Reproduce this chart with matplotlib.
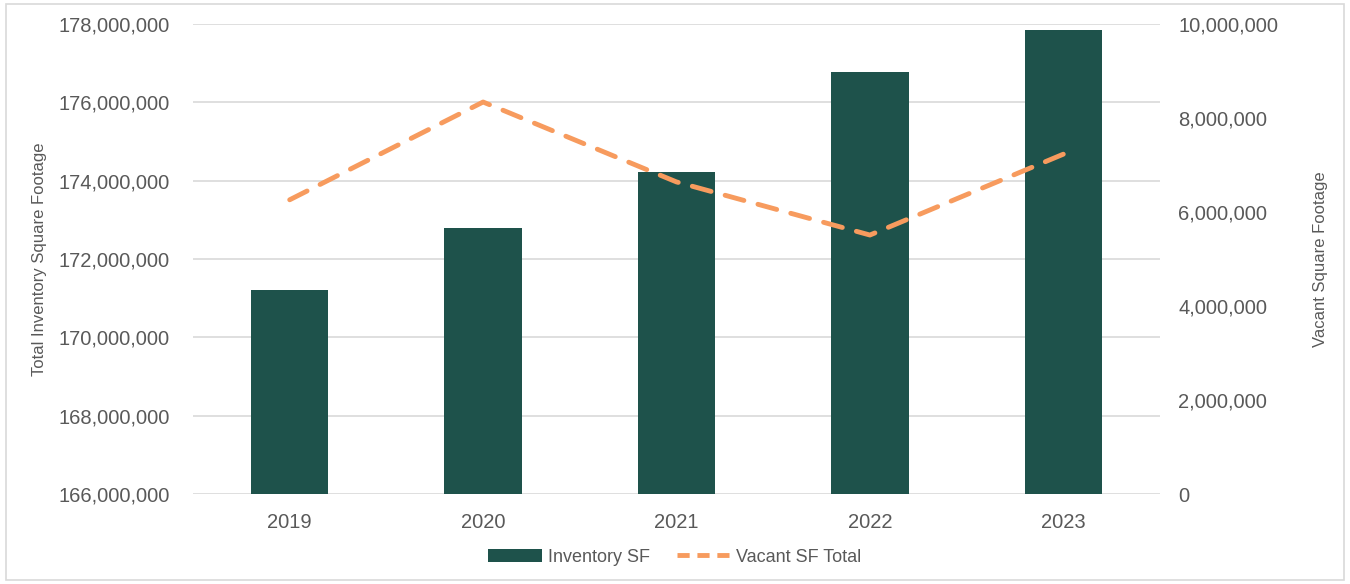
import numpy as np
import matplotlib.pyplot as plt
from matplotlib.ticker import FuncFormatter, MultipleLocator
from matplotlib.patches import Rectangle
from matplotlib.lines import Line2D
from matplotlib.patches import Patch

plt.rcParams['font.family'] = ['Liberation Sans', 'DejaVu Sans']

years = ['2019', '2020', '2021', '2022', '2023']
inventory_sf = [171200000, 172790000, 174210000, 176780000, 177840000]
vacant_sf = [6260000, 8340000, 6640000, 5510000, 7230000]

bar_color = '#1E524B'
line_color = '#F79B5E'
text_color = '#595959'
grid_color = '#D9D9D9'

fig = plt.figure(figsize=(13.5, 5.84), dpi=100)
ax = fig.add_axes([193 / 1350, 1 - 494 / 584, 967 / 1350, 470 / 584])
ax2 = ax.twinx()

x = np.arange(len(years))
ax.bar(x, inventory_sf, width=0.4, color=bar_color, zorder=2)
ax.set_ylim(166000000, 178000000)
ax.yaxis.set_major_locator(MultipleLocator(2000000))
ax.set_xlim(-0.5, len(years) - 0.5)
ax.set_xticks(x)
ax.set_xticklabels(years)
ax.grid(axis='y', color=grid_color, linewidth=1.2, zorder=0)
ax.set_axisbelow(True)

ax2.plot(x, vacant_sf, color=line_color, linewidth=3.5, dashes=(4, 3),
         solid_capstyle='round', dash_capstyle='round', zorder=3)
ax2.set_ylim(0, 10000000)
ax2.yaxis.set_major_locator(MultipleLocator(2000000))

fmt = FuncFormatter(lambda v, p: f'{int(round(v)):,}')
ax.yaxis.set_major_formatter(fmt)
ax2.yaxis.set_major_formatter(fmt)

for a in (ax, ax2):
    for s in a.spines.values():
        s.set_visible(False)
    a.tick_params(length=0, labelsize=14.5, labelcolor=text_color)
ax.tick_params(axis='y', pad=17)
ax.tick_params(axis='x', pad=14)
ax2.tick_params(axis='y', pad=13)

ax.set_ylabel('Total Inventory Square Footage', fontsize=12, color=text_color, labelpad=8)
ax2.set_ylabel('Vacant Square Footage', fontsize=12, color=text_color, labelpad=25)

handles = [Patch(facecolor=bar_color, label='Inventory SF'),
           Line2D([0], [0], color=line_color, linewidth=3.5, dashes=(2.5, 1.6),
                  label='Vacant SF Total')]
fig.legend(handles=handles, loc='center', bbox_to_anchor=(0.5, 1 - 557 / 584), ncol=2,
           frameon=False, fontsize=13, labelcolor=text_color, handlelength=3.0,
           handletextpad=0.3, columnspacing=1.5)

fig.add_artist(Rectangle((6 / 1350, 4 / 584), 1338 / 1350, 576 / 584,
                         transform=fig.transFigure, fill=False,
                         edgecolor='#D9D9D9', linewidth=1.2))

fig.savefig('out.png', dpi=100)
